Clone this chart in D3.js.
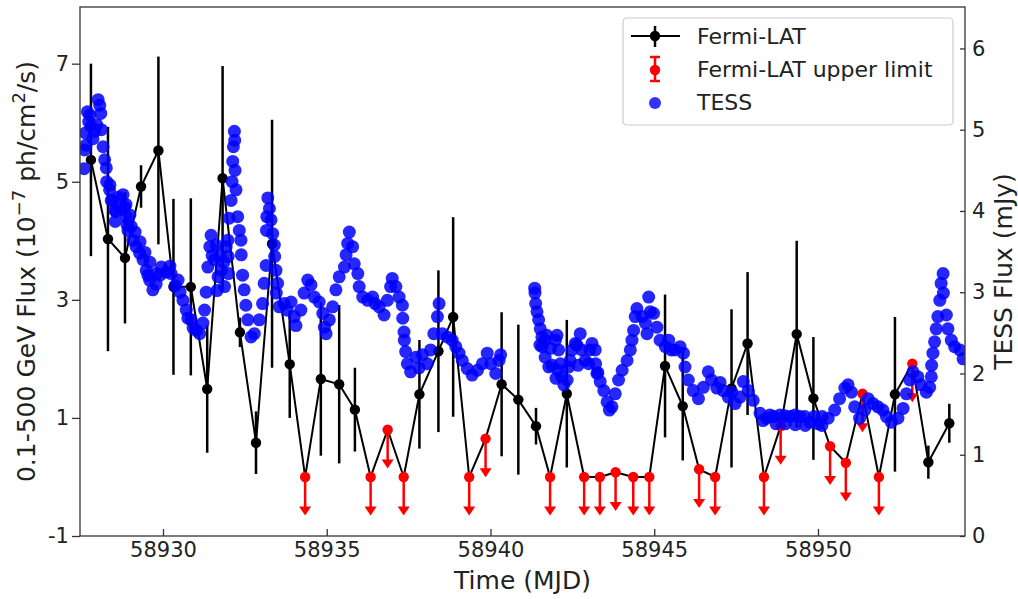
<!DOCTYPE html>
<html>
<head>
<meta charset="utf-8">
<script src="https://cdn.jsdelivr.net/npm/d3@7"></script>
<style>
  body { margin: 0; background: #fff; }
  text { font-family: "DejaVu Sans", sans-serif; fill: #222; }
</style>
</head>
<body>
<div class="chart"></div>
<script>

// Fermi-LAT light curve, 12 h bins (flux in 1e-7 ph/cm2/s)
var fermiMjd = [58927.80, 58928.32, 58928.84, 58929.33, 58929.86, 58930.32, 58930.85, 58931.35, 58931.82,
  58932.35, 58932.84, 58933.33, 58933.87, 58934.34, 58934.82, 58935.38, 58935.86, 58936.34, 58936.86,
  58937.35, 58937.83, 58938.41, 58938.86, 58939.35, 58939.85, 58940.34, 58940.85, 58941.39, 58941.82,
  58942.33, 58942.86, 58943.34, 58943.82, 58944.36, 58944.85, 58945.33, 58945.87, 58946.37, 58946.86,
  58947.36, 58947.85, 58948.35, 58948.86, 58949.35, 58949.86, 58950.37, 58950.85, 58951.36, 58951.86,
  58952.35, 58952.88, 58953.37, 58954.01];
var fermiFlux = [5.37, 4.03, 3.71, 4.92, 5.53, 3.22, 3.22, 1.49, 5.06,
  2.45, 0.58, 3.95, 1.91, 0.00, 1.66, 1.57, 1.14, 0.00, 0.80,
  0.00, 1.40, 2.13, 2.71, 0.00, 0.65, 1.57, 1.31, 0.86, 0.00,
  1.41, 0.00, 0.00, 0.08, 0.00, 0.00, 1.88, 1.20, 0.13, 0.00,
  1.50, 2.26, 0.00, 0.86, 2.42, 1.33, 0.52, 0.24, 1.41, 0.00,
  1.40, 1.92, 0.25, 0.91];
var fermiErr = [1.63, 1.90, 1.11, 0.36, 1.59, 1.49, 1.50, 1.08, 1.90,
  0.25, 0.53, 2.10, 0.91, 0, 1.30, 1.34, 0.71, 0, 0,
  0, 0.92, 1.37, 1.69, 0, 0, 1.22, 1.27, 0.31, 0,
  1.25, 0, 0, 0, 0, 0, 1.21, 0.92, 0, 0,
  1.34, 1.21, 0, 0, 1.58, 1.04, 0, 0, 0, 0,
  1.31, 0, 0.28, 0.33];
// 1 = upper limit
var fermiLimit = [0, 0, 0, 0, 0, 0, 0, 0, 0,
  0, 0, 0, 0, 1, 0, 0, 0, 1, 1,
  1, 0, 0, 0, 1, 1, 0, 0, 0, 1,
  0, 1, 1, 1, 1, 1, 0, 0, 1, 1,
  0, 0, 1, 1, 0, 0, 1, 1, 1, 1,
  0, 1, 0, 0];
var limitArrow = 0.57;

// TESS light curve [MJD, mJy]
var tessPoints = [
  [58927.59,4.52],[58927.61,4.75],[58927.63,4.96],[58927.65,4.81],[58927.69,5.22],[58927.73,5.10],[58927.77,5.18],
  [58927.81,5.04],[58927.86,4.89],[58927.91,4.98],[58927.98,5.06],[58928.02,5.37],[58928.07,5.30],[58928.10,5.20],
  [58928.12,5.00],[58928.17,4.79],[58928.22,4.63],[58928.27,4.53],[58928.28,4.36],[58928.37,4.26],[58928.38,4.32],
  [58928.42,4.13],[58928.47,4.13],[58928.53,4.01],[58928.54,3.87],[58928.56,3.99],[58928.63,4.17],[58928.72,4.02],
  [58928.78,4.20],[58928.83,4.05],[58928.87,4.08],[58928.88,3.93],[58928.90,3.83],[58928.93,3.76],[58928.99,3.95],
  [58929.03,3.81],[58929.08,3.64],[58929.15,3.74],[58929.18,3.56],[58929.29,3.48],[58929.30,3.62],[58929.39,3.40],
  [58929.45,3.49],[58929.49,3.27],[58929.54,3.21],[58929.59,3.15],[58929.60,3.37],[58929.69,3.03],[58929.79,3.10],
  [58929.80,3.23],[58929.91,3.21],[58929.95,3.31],[58930.10,3.25],[58930.21,3.32],[58930.25,3.23],[58930.37,3.08],
  [58930.46,3.15],[58930.52,3.00],[58930.61,2.90],[58930.71,2.78],[58930.76,2.68],[58930.86,2.66],[58930.92,2.56],
  [58931.02,2.53],[58931.12,2.49],[58931.22,2.62],[58931.27,2.78],[58931.32,3.00],[58931.37,3.31],[58931.43,3.56],
  [58931.47,3.70],[58931.50,3.45],[58931.58,3.40],[58931.62,3.58],[58931.65,3.02],[58931.68,3.19],[58931.74,3.45],
  [58931.78,3.27],[58931.86,3.37],[58931.88,3.07],[58931.93,3.56],
  [58931.98,3.64],[58931.99,3.44],[58932.00,3.23],[58932.02,3.91],[58932.08,4.13],[58932.11,4.36],[58932.13,4.61],
  [58932.15,4.79],[58932.18,4.98],[58932.19,4.87],[58932.20,4.50],[58932.23,4.26],[58932.28,3.93],[58932.33,3.76],
  [58932.38,3.64],[58932.39,3.46],[58932.43,3.21],[58932.48,3.03],[58932.53,2.84],[58932.59,2.66],[58932.69,2.45],
  [58932.79,2.49],[58932.94,2.66],[58933.04,2.86],[58933.09,3.11],[58933.15,3.33],[58933.16,3.76],[58933.17,3.93],
  [58933.20,4.16],[58933.25,4.03],[58933.30,3.89],[58933.35,3.72],[58933.40,3.58],[58933.41,3.44],[58933.45,3.27],
  [58933.50,3.11],[58933.46,2.99],[58933.55,2.82],[58933.70,2.86],[58933.79,2.78],[58933.91,2.88],[58934.01,2.70],
  [58934.06,2.59],[58934.21,2.78],[58934.31,2.99],[58934.42,3.15],[58934.52,3.09],[58934.62,2.94],[58934.77,2.88],
  [58934.88,2.74],[58934.93,2.57],[58934.98,2.49],[58935.08,2.66],[58935.18,2.82],[58935.28,3.03],[58935.38,3.19],
  [58935.54,3.31],[58935.59,3.46],[58935.64,3.60],[58935.69,3.74],[58935.79,3.56],[58935.84,3.35],[58935.95,3.23],
  [58935.99,3.07],[58936.10,2.94],[58936.25,2.90],[58936.40,2.94],[58936.48,2.86],
  [58936.60,2.82],[58936.75,2.72],[58936.85,2.90],[58936.95,3.07],[58937.00,3.17],[58937.11,3.07],[58937.21,2.94],
  [58937.31,2.84],[58937.32,2.68],[58937.36,2.51],[58937.37,2.41],[58937.41,2.27],[58937.46,2.12],[58937.56,2.02],
  [58937.72,2.20],[58937.82,2.07],[58937.92,2.23],[58938.07,2.12],[58938.17,2.29],[58938.27,2.49],[58938.38,2.70],
  [58938.43,2.86],[58938.53,2.49],[58938.68,2.45],[58938.83,2.41],[58938.94,2.33],[58939.04,2.25],[58939.14,2.16],
  [58939.29,2.06],[58939.44,1.98],[58939.60,2.04],[58939.75,2.12],[58939.90,2.25],[58940.01,2.12],[58940.16,2.00],
  [58940.26,2.16],[58940.31,2.23],
  [58941.35,3.05],[58941.36,2.99],[58941.38,2.86],[58941.42,2.76],[58941.47,2.66],[58941.51,2.35],[58941.52,2.55],
  [58941.57,2.45],[58941.58,2.33],[58941.66,2.41],[58941.67,2.20],[58941.72,2.47],[58941.78,2.08],[58941.83,2.31],
  [58941.88,2.10],[58941.98,2.41],[58942.00,1.94],[58942.03,2.47],[58942.06,2.04],[58942.08,2.29],[58942.13,2.12],
  [58942.18,1.96],[58942.24,1.86],[58942.34,1.92],[58942.39,2.08],[58942.43,2.16],[58942.49,2.29],[58942.59,2.37],
  [58942.64,2.35],[58942.67,2.10],[58942.74,2.49],[58942.79,2.29],[58942.89,2.16],[58943.00,2.12],[58943.03,2.29],
  [58943.10,2.37],[58943.20,2.29],[58943.21,2.12],[58943.25,2.00],[58943.28,2.01],[58943.35,1.90],[58943.46,1.79],
  [58943.56,1.65],[58943.63,1.55],[58943.71,1.59],[58943.81,1.75],[58943.91,1.92],[58944.02,2.04],[58944.17,2.16],
  [58944.27,2.29],[58944.32,2.41],[58944.37,2.53],[58944.42,2.70],[58944.47,2.80],[58944.63,2.70],[58944.73,2.62],
  [58944.78,2.49],[58944.83,2.94],[58944.88,2.76],[58944.98,2.74],[58945.08,2.57],[58945.18,2.41],[58945.34,2.33],
  [58945.44,2.41],[58945.52,2.29],
  [58945.63,2.29],[58945.79,2.33],[58945.89,2.25],[58945.94,2.08],[58946.04,1.92],[58946.19,1.79],[58946.35,1.69],
  [58946.50,1.83],[58946.65,2.02],[58946.75,1.92],[58946.91,1.82],[58947.01,1.89],[58947.11,1.79],[58947.26,1.71],
  [58947.37,1.77],[58947.47,1.63],[58947.62,1.71],[58947.72,1.90],[58947.87,1.79],[58948.02,1.67],[58948.23,1.51],
  [58948.32,1.42],[58948.43,1.45],[58948.53,1.49],[58948.64,1.47],[58948.72,1.38],[58948.84,1.49],[58948.99,1.48],
  [58949.00,1.38],[58949.15,1.47],[58949.30,1.49],[58949.31,1.37],[58949.45,1.47],[58949.60,1.47],[58949.61,1.36],
  [58949.76,1.40],[58949.88,1.47],[58950.01,1.38],[58950.12,1.36],[58950.13,1.47],
  [58950.31,1.45],[58950.51,1.55],[58950.66,1.69],[58950.82,1.82],[58950.92,1.86],[58951.02,1.77],[58951.12,1.59],
  [58951.27,1.45],[58951.43,1.55],[58951.53,1.69],[58951.68,1.63],[58951.83,1.59],[58951.98,1.55],[58952.09,1.47],
  [58952.24,1.40],[58952.44,1.45],[58952.60,1.57],[58952.70,1.75],[58952.80,1.92],[58952.90,2.02],[58953.05,1.96],
  [58953.15,1.86],[58953.31,1.77],[58953.41,1.83],[58953.46,1.96],[58953.47,2.10],[58953.51,2.25],[58953.56,2.39],
  [58953.61,2.55],[58953.66,2.70],[58953.72,2.90],[58953.76,3.11],[58953.82,3.23],[58953.83,2.99],[58953.92,2.72],
  [58953.97,2.55],[58954.07,2.41],[58954.17,2.33],[58954.33,2.29],[58954.43,2.18]
];

var xTicks = [58930, 58935, 58940, 58945, 58950];
var leftTicks = [-1, 1, 3, 5, 7];
var rightTicks = [0, 1, 2, 3, 4, 5, 6];
var legendLabels = ["Fermi-LAT", "Fermi-LAT upper limit", "TESS"];

var margin = {left: 80, right: 53, top: 7, bottom: 63};
var width = 1018 - margin.left - margin.right;
var height = 599 - margin.top - margin.bottom;

var svg = d3.select(".chart").append("svg")
  .attr("width", 1018)
  .attr("height", 599);

var g = svg.append("g")
  .attr("transform", "translate(" + margin.left + "," + margin.top + ")");

svg.append("defs").append("clipPath")
  .attr("id", "plot-clip")
  .append("rect")
    .attr("width", width)
    .attr("height", height);

// scales
var x = d3.scaleLinear().domain([58927.466, 58954.489]).range([0, width]);
var yFermi = d3.scaleLinear().domain([-1, 7.96]).range([height, 0]);
var yTess = d3.scaleLinear().domain([0, 6.51]).range([height, 0]);

var fermi = fermiMjd.map(function(t, i) {
  return {t: t, f: fermiFlux[i], e: fermiErr[i], ul: fermiLimit[i] === 1};
});

var plot = g.append("g").attr("clip-path", "url(#plot-clip)");

// connecting line through every bin
plot.append("path")
  .datum(fermi)
  .attr("fill", "none")
  .attr("stroke", "#000")
  .attr("stroke-width", 2)
  .attr("d", d3.line()
    .x(function(d) { return x(d.t); })
    .y(function(d) { return yFermi(d.f); }));

// detections
var det = fermi.filter(function(d) { return !d.ul; });
plot.selectAll(".err").data(det).enter().append("line")
  .attr("class", "err")
  .attr("x1", function(d) { return x(d.t); })
  .attr("x2", function(d) { return x(d.t); })
  .attr("y1", function(d) { return yFermi(d.f - d.e); })
  .attr("y2", function(d) { return yFermi(d.f + d.e); })
  .attr("stroke", "#000")
  .attr("stroke-width", 2.5);

plot.selectAll(".det").data(det).enter().append("circle")
  .attr("class", "det")
  .attr("cx", function(d) { return x(d.t); })
  .attr("cy", function(d) { return yFermi(d.f); })
  .attr("r", 5.2)
  .attr("fill", "#000");

// upper limits
var ul = fermi.filter(function(d) { return d.ul; });
plot.selectAll(".ul-bar").data(ul).enter().append("line")
  .attr("class", "ul-bar")
  .attr("x1", function(d) { return x(d.t); })
  .attr("x2", function(d) { return x(d.t); })
  .attr("y1", function(d) { return yFermi(d.f); })
  .attr("y2", function(d) { return yFermi(d.f - limitArrow); })
  .attr("stroke", "#ff0000")
  .attr("stroke-width", 2.5);

plot.selectAll(".ul-head").data(ul).enter().append("path")
  .attr("class", "ul-head")
  .attr("d", function(d) {
    var cx = x(d.t), cy = yFermi(d.f - limitArrow);
    return "M" + (cx - 6) + "," + (cy - 4) + "L" + (cx + 6) + "," + (cy - 4) + "L" + cx + "," + (cy + 5) + "Z";
  })
  .attr("fill", "#ff0000");

plot.selectAll(".ul").data(ul).enter().append("circle")
  .attr("class", "ul")
  .attr("cx", function(d) { return x(d.t); })
  .attr("cy", function(d) { return yFermi(d.f); })
  .attr("r", 5.2)
  .attr("fill", "#ff0000");

// TESS on the twin axis, drawn last
plot.selectAll(".tess").data(tessPoints).enter().append("circle")
  .attr("class", "tess")
  .attr("cx", function(d) { return x(d[0]); })
  .attr("cy", function(d) { return yTess(d[1]); })
  .attr("r", 6.5)
  .attr("fill", "#0000ff")
  .attr("fill-opacity", 0.85);

// axes
var xAxis = g.append("g")
  .attr("transform", "translate(0," + height + ")")
  .call(d3.axisBottom(x).tickValues(xTicks).tickSizeInner(-7).tickSizeOuter(0).tickPadding(6)
    .tickFormat(function(d) { return String(d); }));

var yAxisL = g.append("g")
  .call(d3.axisLeft(yFermi).tickValues(leftTicks).tickSizeInner(8).tickSizeOuter(0).tickPadding(3)
    .tickFormat(function(d) { return String(d); }));

var yAxisR = g.append("g")
  .attr("transform", "translate(" + width + ",0)")
  .call(d3.axisRight(yTess).tickValues(rightTicks).tickSizeInner(-5).tickSizeOuter(0).tickPadding(7)
    .tickFormat(function(d) { return String(d); }));

[xAxis, yAxisL, yAxisR].forEach(function(a) {
  a.select(".domain").remove();
  a.selectAll(".tick line").attr("stroke", "#333").attr("stroke-width", 1.3);
  a.selectAll(".tick text").attr("font-size", "21px").attr("fill", "#222")
    .attr("font-family", "DejaVu Sans, sans-serif");
});

g.append("rect")
  .attr("width", width)
  .attr("height", height)
  .attr("fill", "none")
  .attr("stroke", "#333")
  .attr("stroke-width", 1.3);

// axis labels
g.append("text")
  .text("Time (MJD)")
  .attr("x", width / 2)
  .attr("y", height + 53)
  .attr("text-anchor", "middle")
  .attr("font-size", "25px");

var leftLabel = svg.append("text")
  .attr("transform", "translate(35," + (margin.top + height / 2) + ") rotate(-90)")
  .attr("text-anchor", "middle")
  .attr("font-size", "25px");
leftLabel.append("tspan").text("0.1-500 GeV Flux (10");
leftLabel.append("tspan").text("\u22127").attr("font-size", "18px").attr("dy", -10);
leftLabel.append("tspan").text(" ph/cm").attr("dy", 10);
leftLabel.append("tspan").text("2").attr("font-size", "18px").attr("dy", -10);
leftLabel.append("tspan").text("/s)").attr("dy", 10);

svg.append("text")
  .text("TESS Flux (mJy)")
  .attr("transform", "translate(1012," + (margin.top + height / 2) + ") rotate(-90)")
  .attr("text-anchor", "middle")
  .attr("font-size", "25px");

// legend
var legend = svg.append("g").attr("transform", "translate(623,18)");
legend.append("rect")
  .attr("width", 330)
  .attr("height", 107)
  .attr("rx", 4)
  .attr("fill", "#fff")
  .attr("fill-opacity", 0.8)
  .attr("stroke", "#ccc")
  .attr("stroke-width", 1.2);

var mx = 32;
legend.append("line").attr("x1", 8).attr("x2", 57).attr("y1", 18).attr("y2", 18)
  .attr("stroke", "#000").attr("stroke-width", 2);
legend.append("line").attr("x1", mx).attr("x2", mx).attr("y1", 8).attr("y2", 29)
  .attr("stroke", "#000").attr("stroke-width", 2.5);
legend.append("circle").attr("cx", mx).attr("cy", 18).attr("r", 5.2).attr("fill", "#000");

legend.append("line").attr("x1", mx).attr("x2", mx).attr("y1", 39).attr("y2", 63)
  .attr("stroke", "#ff0000").attr("stroke-width", 2.5);
[39, 63].forEach(function(cy) {
  legend.append("line").attr("x1", mx - 5).attr("x2", mx + 5).attr("y1", cy).attr("y2", cy)
    .attr("stroke", "#ff0000").attr("stroke-width", 2.5);
});
legend.append("circle").attr("cx", mx).attr("cy", 52).attr("r", 5.2).attr("fill", "#ff0000");

legend.append("circle").attr("cx", mx).attr("cy", 85).attr("r", 6).attr("fill", "#0000ff").attr("fill-opacity", 0.8);

legend.selectAll(".legend-label").data(legendLabels).enter().append("text")
  .attr("class", "legend-label")
  .attr("x", 74)
  .attr("y", function(d, i) { return 26 + i * 33; })
  .attr("font-size", "22px")
  .text(function(d) { return d; });

</script>
</body>
</html>
